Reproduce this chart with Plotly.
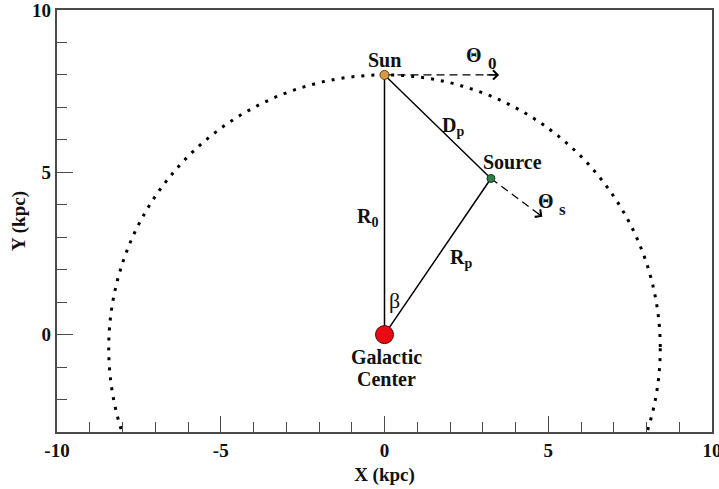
import plotly.graph_objects as go

FONT = "Liberation Serif"

# ---- axes ----
x_range = [-10, 10]
y_range = [-3, 10]
x_tick_vals = [-10, -5, 0, 5, 10]
x_tick_text = ["-10", "-5", "0", "5", "10"]
y_tick_vals = [0, 5, 10]
y_tick_text = ["0", "5", "10"]

# ---- geometry (kpc) ----
point_names = ["Sun", "Source", "Galactic Center"]
point_x = [0.0, 3.25, 0.0]
point_y = [8.0, 4.81, 0.0]
point_colors = ["#d99a45", "#2f7d4c", "#e80c12"]
point_edge = ["#5a3a10", "#143a20", "#5a0000"]
point_sizes = [9, 8, 18]

# velocity arrows: start point -> tip
vel_start_x = [0.0, 3.25]
vel_start_y = [8.0, 4.81]
vel_tip_x = [3.50, 4.82]
vel_tip_y = [8.0, 3.63]

# solar orbit (dotted)
orbit_center_x = 0.0
orbit_center_y = -0.42
orbit_radius = 8.42

# ---- text labels ----
label_text = ["Sun", "Θ", "0", "D<sub>p</sub>", "Source", "Θ", "s",
              "R<sub>0</sub>", "R<sub>p</sub>", "β", "Galactic", "Center"]
label_x = [0.0, 2.73, 3.30, 2.09, 3.92, 4.93, 5.45, -0.53, 2.34, 0.32, 0.05, 0.05]
label_y = [8.47, 8.60, 8.36, 6.40, 5.33, 4.11, 3.84, 3.62, 2.34, 1.06, -0.68, -1.38]
label_size = [20, 20, 17, 20, 20, 20, 17, 20, 20, 22, 20, 20]
label_weight = ["bold", "bold", "bold", "bold", "bold", "bold", "bold",
                "bold", "bold", "normal", "bold", "bold"]

fig = go.Figure()

# triangle Sun - GC - Source - Sun
tri_x = [point_x[0], point_x[2], point_x[1], point_x[0]]
tri_y = [point_y[0], point_y[2], point_y[1], point_y[0]]
fig.add_trace(go.Scatter(x=tri_x, y=tri_y, mode="lines",
                         line=dict(color="black", width=1.5),
                         hoverinfo="skip", showlegend=False))

# dashed velocity lines
for sx, sy, tx, ty in zip(vel_start_x, vel_start_y, vel_tip_x, vel_tip_y):
    fig.add_trace(go.Scatter(x=[sx, tx], y=[sy, ty], mode="lines",
                             line=dict(color="black", width=1.3, dash="8px,5px"),
                             hoverinfo="skip", showlegend=False))
    # arrowhead
    fig.add_annotation(x=tx, y=ty, ax=tx + 0.12 * (sx - tx), ay=ty + 0.12 * (sy - ty),
                       xref="x", yref="y", axref="x", ayref="y",
                       showarrow=True, arrowhead=4, arrowsize=1.5, arrowwidth=1.2,
                       arrowcolor="black", text="")

# points
fig.add_trace(go.Scatter(x=point_x, y=point_y, mode="markers",
                         marker=dict(color=point_colors, size=point_sizes, opacity=1,
                                     line=dict(color=point_edge, width=1)),
                         text=point_names, hoverinfo="text", showlegend=False))

# dotted orbit
fig.add_shape(type="circle", xref="x", yref="y",
              x0=orbit_center_x - orbit_radius, x1=orbit_center_x + orbit_radius,
              y0=orbit_center_y - orbit_radius, y1=orbit_center_y + orbit_radius,
              line=dict(color="black", width=3, dash="3px,7px"), layer="below")

for t, x, y, s, w in zip(label_text, label_x, label_y, label_size, label_weight):
    fig.add_annotation(x=x, y=y, xref="x", yref="y", text=t, showarrow=False,
                       font=dict(family=FONT, size=s, color="#111111", weight=w),
                       xanchor="center", yanchor="middle")

axis_common = dict(
    showgrid=False, zeroline=False, showline=True, mirror=True,
    linecolor="#4a4a4a", linewidth=2.2,
    ticks="inside", tickcolor="#4a4a4a", tickwidth=1.4, ticklen=16,
    tickfont=dict(family=FONT, size=19, color="#111111", weight="bold"),
    ticklabeloverflow="allow",
    minor=dict(ticks="inside", ticklen=10, tickwidth=1.4, tickcolor="#4a4a4a", dtick=1),
    automargin=False,
)

fig.update_xaxes(range=x_range, tickvals=x_tick_vals, ticktext=x_tick_text,
                 title=dict(text="X (kpc)", font=dict(family=FONT, size=19, color="#111111", weight="bold"),
                            standoff=8),
                 **axis_common)
fig.update_yaxes(range=y_range, tickvals=y_tick_vals, ticktext=y_tick_text,
                 title=dict(text="Y (kpc)", font=dict(family=FONT, size=19, color="#111111", weight="bold"),
                            standoff=1),
                 **axis_common)

fig.update_layout(width=719, height=489,
                  margin=dict(l=57, r=7, t=10, b=57),
                  plot_bgcolor="white", paper_bgcolor="white",
                  showlegend=False)

fig.write_html("out.html")
